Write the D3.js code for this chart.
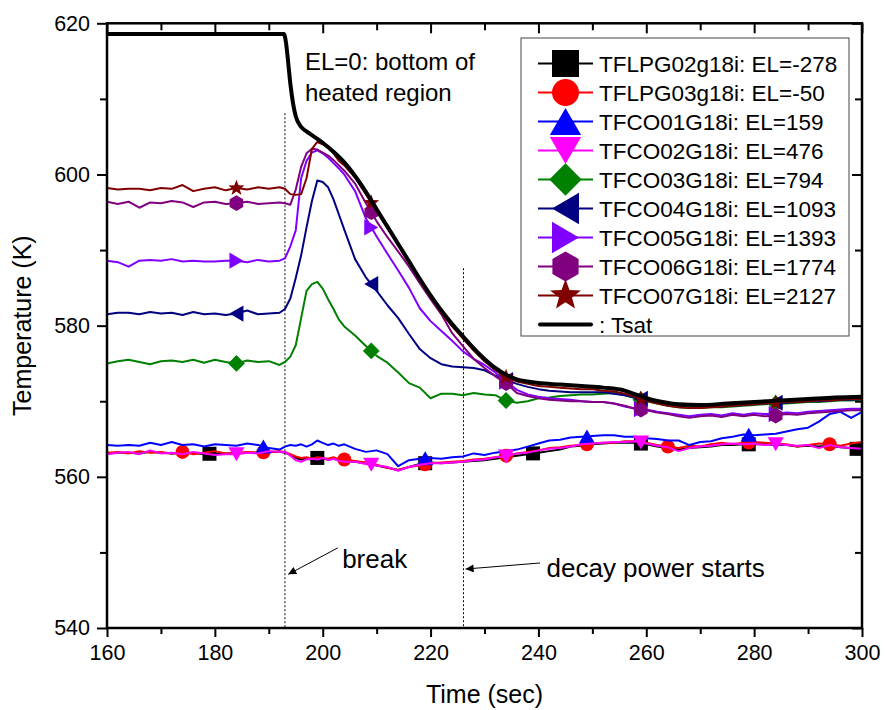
<!DOCTYPE html>
<html>
<head>
<meta charset="utf-8">
<script src="https://cdn.jsdelivr.net/npm/d3@7"></script>
<style>
  body { margin: 0; background: #fff; }
  svg { display: block; }
  text { font-family: Arial, "Liberation Sans", sans-serif; fill: #000; }
</style>
</head>
<body>
<svg id="chart" width="885" height="710"></svg>
<script>
// ---- data ------------------------------------------------------------
const times = [160,162,164,166,168,170,172,174,176,178,180,182,184,186,188,190,
  192,193,194,195,196,197,198,199,200,201,202,203,204,
  206,208,210,212,214,216,218,220,222,224,
  226,228,230,232,234,236,238,240,242,244,
  246,248,250,252,254,256,258,260,262,264,
  266,268,270,272,274,276,278,280,282,284,
  286,288,290,292,294,296,298,300];

const tflpg02 = [563.1,563.2,563.2,563.1,563.3,563.2,563.1,563.1,563.2,563.0,563.1,563.1,563.1,563.2,563.2,563.3,
  563.3,563.2,562.9,562.5,562.3,562.4,562.3,562.5,562.4,562.3,562.4,562.2,562.1,
  562.0,561.8,561.5,561.2,560.9,561.3,561.7,561.9,561.8,561.9,
  562.0,562.1,562.2,562.4,562.6,562.8,563.0,563.2,563.4,563.6,
  564.0,564.1,564.3,564.4,564.5,564.5,564.5,564.3,564.0,563.8,
  563.6,563.8,563.9,564.0,564.2,564.2,564.3,564.3,564.3,564.2,
  564.2,564.0,564.1,564.0,564.1,563.9,563.8,563.6];

const tflpg03 = [563.2,563.3,563.1,563.4,563.2,563.3,563.1,563.3,563.0,563.2,563.4,563.1,563.2,563.3,563.2,563.3,
  563.4,563.3,563.0,562.7,562.5,562.6,562.4,562.6,562.5,562.4,562.6,562.3,562.3,
  562.1,561.9,561.6,561.2,560.9,561.3,561.5,561.8,561.9,562.0,
  562.1,562.3,562.4,562.6,562.8,563.1,563.3,563.5,563.8,563.9,
  564.1,564.2,564.4,564.5,564.5,564.7,564.7,564.5,564.2,564.0,
  563.8,564.1,564.0,564.3,564.5,564.3,564.5,564.6,564.5,564.4,
  564.3,564.0,564.2,564.4,564.3,564.1,564.4,564.6];

const tfco01 = [564.2,564.1,564.2,564.1,564.5,564.2,564.6,564.2,564.3,564.0,564.3,564.2,564.1,564.4,564.2,563.8,
  563.6,564.0,564.2,564.1,564.3,564.0,564.3,564.8,564.5,564.2,564.4,564.1,564.3,
  563.7,563.3,563.5,563.0,561.4,562.2,562.4,562.5,562.4,562.6,
  562.7,563.1,562.9,563.2,563.4,563.6,564.0,564.4,564.8,564.9,
  565.2,565.3,565.4,565.5,565.5,565.3,565.3,565.1,565.0,564.8,
  564.8,564.2,564.6,564.7,565.1,565.3,565.6,565.5,565.6,565.7,
  566.0,566.3,566.5,567.3,568.3,568.6,567.8,568.6];

const tfco02 = [563.0,563.2,563.3,563.0,563.5,563.1,563.2,563.0,563.3,563.1,562.9,563.0,563.0,563.2,563.1,563.4,
  563.3,563.3,562.8,562.2,562.0,562.3,562.4,562.3,562.5,562.2,562.4,562.1,562.0,
  562.0,561.7,561.5,561.3,560.8,561.3,561.6,561.8,561.8,561.9,
  562.0,562.2,562.3,562.6,562.7,563.1,563.2,563.5,563.7,563.8,
  564.0,564.3,564.4,564.5,564.6,564.6,564.7,564.4,564.1,563.9,
  563.4,563.8,564.0,564.1,564.3,564.4,564.3,564.4,564.2,564.3,
  564.2,564.1,564.2,563.8,564.2,563.9,563.8,563.7];

const tfco03 = [575.0,575.3,575.5,575.2,574.9,575.3,575.4,575.2,575.5,575.1,575.5,575.2,575.0,575.4,575.2,575.3,
  574.8,575.2,575.9,577.4,581.0,584.6,585.5,585.8,584.9,583.5,582.2,580.8,579.9,
  578.7,577.3,576.0,575.1,573.8,572.4,571.8,570.4,571.0,571.0,
  570.8,571.1,570.9,570.8,570.1,569.8,570.0,570.4,570.5,570.7,
  570.8,570.9,570.9,571.0,571.1,570.8,570.4,570.0,569.7,569.4,
  569.2,569.1,569.1,569.2,569.2,569.3,569.4,569.5,569.6,569.7,
  569.7,569.8,569.9,569.9,570.0,570.1,570.1,570.2];

const tfco04 = [581.5,581.7,581.7,581.5,581.8,581.6,581.7,581.4,581.8,581.5,581.6,581.4,581.6,582.0,581.5,581.6,
  581.7,582.2,583.6,586.3,589.3,593.0,596.5,599.2,599.0,598.3,596.7,594.7,592.7,
  588.8,586.4,584.6,582.7,581.0,578.9,576.9,575.7,574.9,574.6,
  574.5,574.4,574.1,573.4,572.8,572.3,571.9,571.6,571.4,571.3,
  571.2,571.2,571.2,571.2,571.0,570.8,570.5,570.1,569.8,569.5,
  569.3,569.2,569.2,569.3,569.3,569.4,569.5,569.6,569.7,569.8,
  569.8,569.9,570.0,570.0,570.1,570.2,570.2,570.3];

const tfco05 = [588.6,588.4,587.8,588.6,588.7,588.6,588.8,588.5,588.6,588.5,588.5,588.6,588.6,588.4,588.7,588.5,
  588.6,588.9,590.5,592.6,599.5,601.8,602.9,603.2,602.8,602.2,601.5,600.8,600.0,
  597.8,594.2,591.8,589.5,587.3,585.0,582.3,580.6,579.3,578.0,
  576.6,575.6,574.8,573.8,572.6,571.5,570.9,570.6,570.4,570.3,
  570.2,570.0,569.9,569.9,569.7,569.3,569.0,568.9,568.6,568.4,
  568.2,568.0,568.2,568.3,568.1,568.4,568.2,568.4,568.3,568.3,
  568.5,568.4,568.6,568.7,568.8,568.9,569.0,569.0];

const tfco06 = [596.4,596.1,596.4,595.6,596.3,596.2,596.5,596.3,595.7,596.3,596.4,596.1,596.2,596.4,596.1,596.2,
  596.3,596.2,596.0,598.0,601.0,602.8,603.4,603.3,602.9,602.5,601.9,601.2,600.5,
  598.8,596.2,593.8,591.7,589.8,587.8,585.6,583.5,581.5,579.0,
  577.3,575.6,574.4,573.3,572.4,571.1,570.7,570.4,570.2,570.1,
  570.0,570.0,569.9,569.9,569.7,569.4,569.0,568.8,568.5,568.3,
  568.0,567.8,568.0,568.1,567.9,568.2,568.0,568.2,568.0,568.1,
  568.3,568.2,568.4,568.5,568.6,568.7,568.8,568.8];

const tfco07 = [598.2,598.0,598.1,598.1,597.9,598.2,598.1,598.6,597.8,598.1,598.3,597.9,598.2,598.0,598.3,598.1,
  598.3,598.1,597.4,597.3,597.4,599.5,603.4,604.3,604.0,603.5,602.8,601.8,601.2,
  599.6,597.4,595.1,592.9,590.6,588.3,586.0,583.8,581.7,579.9,
  578.3,576.7,575.3,574.1,573.2,572.6,572.3,572.0,571.9,571.8,
  571.7,571.6,571.6,571.4,571.3,571.0,570.6,570.1,569.7,569.4,
  569.2,569.1,569.1,569.2,569.3,569.4,569.5,569.6,569.7,569.8,
  569.9,569.9,570.0,570.1,570.1,570.2,570.3,570.3];

const tsatTimes = [160,192.8,193.2,193.6,194,194.5,195,196,197,198,199,200,202,204,206,208,210,212,214,216,218,
  220,222,224,226,228,230,232,234,236,238,240,244,248,252,256,258,260,263,266,270,275,280,285,290,295,300];
const tsatValues = [618.6,618.6,617.4,614.8,612.0,609.4,607.7,606.3,605.7,605.2,604.7,604.2,603.0,601.6,599.8,597.7,595.4,593.1,590.8,588.5,586.2,
  584.0,582.0,580.2,578.6,577.0,575.6,574.4,573.5,572.9,572.6,572.4,572.2,572.0,571.8,571.4,570.9,570.4,569.9,569.6,569.5,569.7,569.9,570.1,570.3,570.5,570.6];

// symbol positions along each curve (seconds)
const squareTimes   = [179,199,219,239,259,279,299];
const circleTimes   = [174,189,204,219,234,249,264,279,294];
const triUpTimes    = [189,219,249,279];
const fcoMarkTimes  = [184,209,234,259,284];

const seriesLabels = ["TFLPG02g18i: EL=-278","TFLPG03g18i: EL=-50","TFCO01G18i: EL=159","TFCO02G18i: EL=476",
  "TFCO03G18i: EL=794","TFCO04G18i: EL=1093","TFCO05G18i: EL=1393","TFCO06G18i: EL=1774","TFCO07G18i: EL=2127"];
const tsatLabel = ": Tsat";

const xTicks = [160,180,200,220,240,260,280,300];
const xMinor = [170,190,210,230,250,270,290];
const yTicks = [540,560,580,600,620];
const yMinor = [550,570,590,610];

const breakTime = 193, decayTime = 226.1;

// ---- layout ----------------------------------------------------------
const svg = d3.select("#chart");
const L = 107, R = 862, T = 23.3, B = 628;
const x = d3.scaleLinear().domain([160, 300]).range([L, R]);
const y = d3.scaleLinear().domain([540, 620]).range([B, T]);

svg.append("rect").attr("width", 885).attr("height", 710).attr("fill", "#fff");

// ---- symbol shapes ----------------------------------------------------
function symbolPath(kind, s) {
  const h = s / 2;
  switch (kind) {
    case "square": return `M${-h},${-h}H${h}V${h}H${-h}Z`;
    case "circle": return `M${-h},0A${h},${h} 0 1,0 ${h},0A${h},${h} 0 1,0 ${-h},0Z`;
    case "up": { const w = s * 0.58; return `M0,${-h}L${w},${h}L${-w},${h}Z`; }
    case "down": { const w = s * 0.58; return `M0,${h}L${w},${-h}L${-w},${-h}Z`; }
    case "left": { const w = s * 0.58; return `M${-h},0L${h},${-w}L${h},${w}Z`; }
    case "right": { const w = s * 0.58; return `M${h},0L${-h},${-w}L${-h},${w}Z`; }
    case "diamond": { const d = s * 0.6; return `M0,${-d}L${d},0L0,${d}L${-d},0Z`; }
    case "hex": {
      const r = s * 0.56; let p = "";
      for (let k = 0; k < 6; k++) {
        const a = (-90 + 60 * k) * Math.PI / 180;
        p += (k ? "L" : "M") + (r * Math.cos(a)).toFixed(2) + "," + (r * Math.sin(a)).toFixed(2);
      }
      return p + "Z";
    }
    case "star": {
      const ro = s * 0.6, ri = ro * 0.42; let p = "";
      for (let k = 0; k < 10; k++) {
        const a = (-90 + 36 * k) * Math.PI / 180, r = k % 2 ? ri : ro;
        p += (k ? "L" : "M") + (r * Math.cos(a)).toFixed(2) + "," + (r * Math.sin(a)).toFixed(2);
      }
      return p + "Z";
    }
  }
}

const series = [
  { values: tflpg02, color: "#000000", sym: "square",  marks: squareTimes },
  { values: tflpg03, color: "#FF0000", sym: "circle",  marks: circleTimes },
  { values: tfco01,  color: "#0000FF", sym: "up",      marks: triUpTimes },
  { values: tfco02,  color: "#FF00FF", sym: "down",    marks: fcoMarkTimes },
  { values: tfco03,  color: "#008000", sym: "diamond", marks: fcoMarkTimes },
  { values: tfco04,  color: "#000080", sym: "left",    marks: fcoMarkTimes },
  { values: tfco05,  color: "#8000FF", sym: "right",   marks: fcoMarkTimes },
  { values: tfco06,  color: "#800080", sym: "hex",     marks: fcoMarkTimes },
  { values: tfco07,  color: "#800000", sym: "star",    marks: fcoMarkTimes }
];

function valueAt(ts, vs, t) {
  const i = d3.bisectLeft(ts, t);
  if (ts[i] === t) return vs[i];
  const a = i - 1;
  return vs[a] + (vs[i] - vs[a]) * (t - ts[a]) / (ts[i] - ts[a]);
}

// ---- plot area -------------------------------------------------------
svg.append("defs").append("clipPath").attr("id", "plotClip")
  .append("rect").attr("x", L).attr("y", T).attr("width", R - L).attr("height", B - T);

// dotted event markers
svg.append("line").attr("x1", x(breakTime)).attr("x2", x(breakTime))
  .attr("y1", y(608.1)).attr("y2", y(540))
  .attr("stroke", "#000").attr("stroke-width", 1).attr("stroke-dasharray", "2,2");
svg.append("line").attr("x1", x(decayTime)).attr("x2", x(decayTime))
  .attr("y1", y(587.6)).attr("y2", y(540))
  .attr("stroke", "#000").attr("stroke-width", 1).attr("stroke-dasharray", "2,2");

const plot = svg.append("g").attr("clip-path", "url(#plotClip)");
const line = d3.line().x((d, i) => x(times[i])).y(d => y(d));

series.forEach(s => {
  plot.append("path").datum(s.values).attr("d", line)
    .attr("fill", "none").attr("stroke", s.color).attr("stroke-width", 2).attr("stroke-linejoin", "round");
  plot.selectAll(null).data(s.marks).enter().append("path")
    .attr("d", symbolPath(s.sym, 14))
    .attr("transform", t => `translate(${x(t)},${y(valueAt(times, s.values, t))})`)
    .attr("fill", s.color);
});

const tsatLine = d3.line().x((d, i) => x(tsatTimes[i])).y(d => y(d)).curve(d3.curveMonotoneX);
plot.append("path").datum(tsatValues).attr("d", tsatLine)
  .attr("fill", "none").attr("stroke", "#000").attr("stroke-width", 4).attr("stroke-linejoin", "round");

// ---- axes ------------------------------------------------------------
function tickStyle(g) {
  g.select(".domain").remove();
  g.selectAll(".tick line").attr("stroke", "#000").attr("stroke-width", 2);
  g.selectAll("text").attr("font-size", 21.5).attr("font-family", "Arial, 'Liberation Sans', sans-serif").attr("fill", "#000");
}
svg.append("g").attr("transform", `translate(0,${B})`)
  .call(d3.axisBottom(x).tickValues(xTicks).tickSize(9).tickPadding(8).tickFormat(d3.format("d"))).call(tickStyle);
svg.append("g").attr("transform", `translate(0,${B})`)
  .call(d3.axisBottom(x).tickValues(xMinor).tickSize(6).tickFormat("")).call(tickStyle);
svg.append("g").attr("transform", `translate(0,${T})`)
  .call(d3.axisBottom(x).tickValues(xTicks).tickSize(10).tickFormat("")).call(tickStyle);
svg.append("g").attr("transform", `translate(0,${T})`)
  .call(d3.axisBottom(x).tickValues(xMinor).tickSize(7).tickFormat("")).call(tickStyle);
svg.append("g").attr("transform", `translate(${L},0)`)
  .call(d3.axisLeft(y).tickValues(yTicks).tickSize(10).tickPadding(7).tickFormat(d3.format("d"))).call(tickStyle);
svg.append("g").attr("transform", `translate(${L},0)`)
  .call(d3.axisLeft(y).tickValues(yMinor).tickSize(7).tickFormat("")).call(tickStyle);
svg.append("g").attr("transform", `translate(${R},0)`)
  .call(d3.axisLeft(y).tickValues(yTicks).tickSize(10).tickFormat("")).call(tickStyle);
svg.append("g").attr("transform", `translate(${R},0)`)
  .call(d3.axisLeft(y).tickValues(yMinor).tickSize(7).tickFormat("")).call(tickStyle);

svg.append("rect").attr("x", L).attr("y", T).attr("width", R - L).attr("height", B - T)
  .attr("fill", "none").attr("stroke", "#000").attr("stroke-width", 2.5);

svg.append("text").attr("x", (L + R) / 2).attr("y", 703).attr("text-anchor", "middle")
  .attr("font-size", 25).text("Time (sec)");
svg.append("text").attr("transform", `translate(31,${(T + B) / 2}) rotate(-90)`).attr("text-anchor", "middle")
  .attr("font-size", 25).text("Temperature (K)");

// ---- annotations -----------------------------------------------------
const ann = svg.append("g").attr("font-size", 24);
ann.append("text").attr("x", x(196.7)).attr("y", y(613.8)).text("EL=0: bottom of");
ann.append("text").attr("x", x(196.7)).attr("y", y(609.7)).text("heated region");

svg.append("defs").append("marker").attr("id", "arrowHead")
  .attr("viewBox", "0 0 10 10").attr("refX", 10).attr("refY", 5)
  .attr("markerWidth", 10).attr("markerHeight", 8).attr("markerUnits", "userSpaceOnUse")
  .attr("orient", "auto")
  .append("path").attr("d", "M0,0L10,5L0,10Z").attr("fill", "#000");

svg.append("line").attr("x1", x(202.8)).attr("y1", y(550.6)).attr("x2", x(193.6)).attr("y2", y(547.1))
  .attr("stroke", "#000").attr("stroke-width", 1).attr("marker-end", "url(#arrowHead)");
svg.append("text").attr("x", x(203.6)).attr("y", y(547.9)).attr("font-size", 26).text("break");

svg.append("line").attr("x1", x(240.3)).attr("y1", y(548.6)).attr("x2", x(226.5)).attr("y2", y(547.8))
  .attr("stroke", "#000").attr("stroke-width", 1).attr("marker-end", "url(#arrowHead)");
svg.append("text").attr("x", x(241.5)).attr("y", y(546.8)).attr("font-size", 26).text("decay power starts");

// ---- legend ----------------------------------------------------------
const leg = svg.append("g");
leg.append("rect").attr("x", 521).attr("y", 38).attr("width", 328).attr("height", 298)
  .attr("fill", "#fff").attr("stroke", "#444").attr("stroke-width", 1);
const rowY = i => 63.5 + i * 29;
series.forEach((s, i) => {
  const cy = rowY(i);
  leg.append("line").attr("x1", 538).attr("x2", 593).attr("y1", cy).attr("y2", cy)
    .attr("stroke", s.color).attr("stroke-width", 2);
  leg.append("path").attr("d", symbolPath(s.sym, 27)).attr("transform", `translate(565.5,${cy})`).attr("fill", s.color);
  leg.append("text").attr("x", 599).attr("y", cy + 8).attr("font-size", 22.5).text(seriesLabels[i]);
});
leg.append("line").attr("x1", 540).attr("x2", 591).attr("y1", rowY(9)).attr("y2", rowY(9))
  .attr("stroke", "#000").attr("stroke-width", 4).attr("stroke-linecap", "round");
leg.append("text").attr("x", 599).attr("y", rowY(9) + 8).attr("font-size", 22.5).text(tsatLabel);
</script>
</body>
</html>
